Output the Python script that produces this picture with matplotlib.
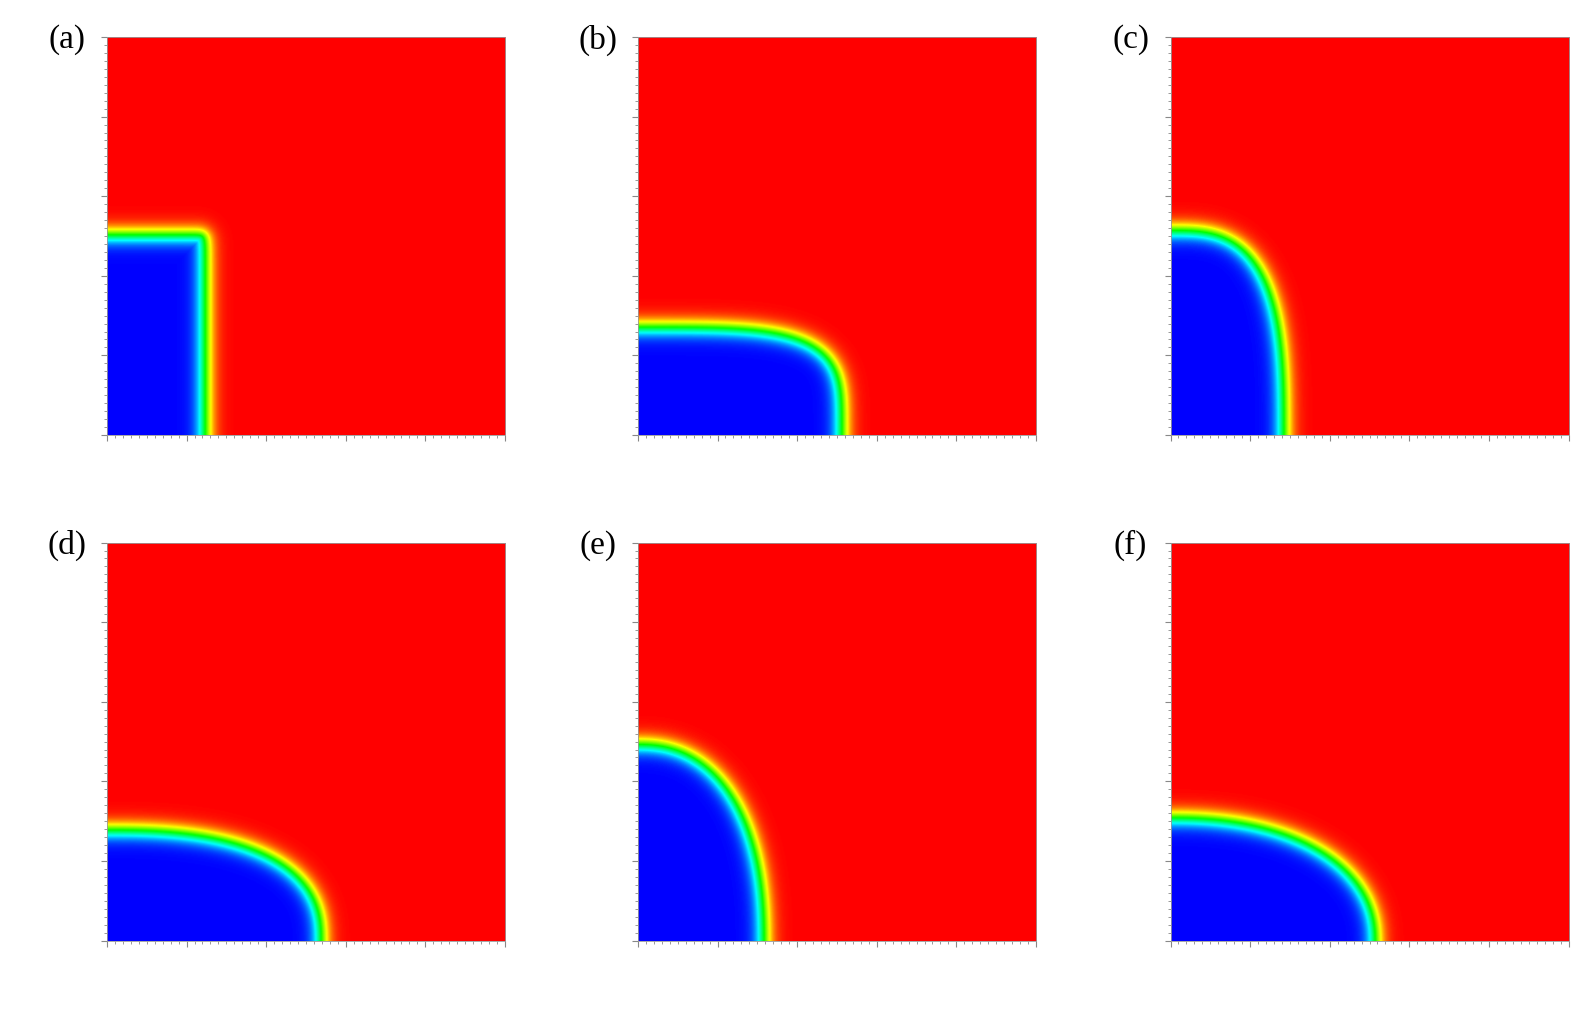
import numpy as np
import matplotlib
matplotlib.use("Agg")
import matplotlib.pyplot as plt
from matplotlib.colors import LinearSegmentedColormap
from matplotlib.ticker import MultipleLocator

# panel labels and interface shape of the blue phase (quarter superellipse)
labels = ["(a)", "(b)", "(c)", "(d)", "(e)", "(f)"]
semi_x = [0.246, 0.511, 0.283, 0.537, 0.316, 0.512]
semi_y = [0.503, 0.271, 0.514, 0.279, 0.494, 0.310]
shape_n = [40.0, 4.0, 3.0, 2.5, 2.3, 2.2]
width = 0.013

cmap = LinearSegmentedColormap.from_list(
    "phase", ["#0000ff", "#00ffff", "#00ff00", "#ffff00", "#ff0000"])

N = 400
xs = (np.arange(N) + 0.5) / N
X, Y = np.meshgrid(xs, xs)


def phase_field(a, b, n):
    # boundary points, sampled densely along both axes
    s = np.linspace(0, 1, 600)
    bx = np.concatenate([a * s, a * (1 - s ** n) ** (1.0 / n)])
    by = np.concatenate([b * (1 - s ** n) ** (1.0 / n), b * s])
    dist = np.empty_like(X)
    for i in range(N):
        dx = X[i][:, None] - bx[None, :]
        dy = Y[i][:, None] - by[None, :]
        dist[i] = np.sqrt(dx * dx + dy * dy).min(axis=1)
    inside = (X / a) ** n + (Y / b) ** n < 1
    d = np.where(inside, -dist, dist)
    return 0.5 * (1 + np.tanh(d / (2 * width)))


fig = plt.figure(figsize=(15.96, 10.17), dpi=100)
lefts = [0.0670, 0.3997, 0.7334]
bottoms = [0.5723, 0.0752]
w, h = 0.2494, 0.3913

for k in range(6):
    r, c = divmod(k, 3)
    ax = fig.add_axes([lefts[c], bottoms[r], w, h])
    phi = phase_field(semi_x[k], semi_y[k], shape_n[k])
    ax.imshow(phi, origin="lower", extent=[0, 1, 0, 1], cmap=cmap,
              vmin=0, vmax=1, interpolation="bilinear", aspect="auto")
    ax.set_xlim(0, 1)
    ax.set_ylim(0, 1)
    ax.xaxis.set_major_locator(MultipleLocator(0.2))
    ax.xaxis.set_minor_locator(MultipleLocator(0.02))
    ax.yaxis.set_major_locator(MultipleLocator(0.2))
    ax.yaxis.set_minor_locator(MultipleLocator(0.02))
    ax.tick_params(which="major", length=4, width=0.8, color="#888888",
                   labelbottom=False, labelleft=False, direction="out")
    ax.tick_params(which="minor", length=2, width=0.6, color="#888888",
                   direction="out")
    for sp in ax.spines.values():
        sp.set_color("#999999")
        sp.set_linewidth(0.6)
    fig.text(lefts[c] - 0.025, bottoms[r] + h - 0.003, labels[k],
             ha="center", va="center", fontsize=24,
             family="Liberation Serif")

fig.savefig("out.png", dpi=100)
